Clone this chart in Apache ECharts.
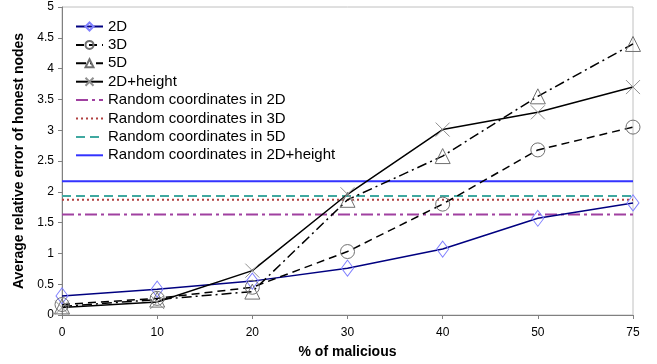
<!DOCTYPE html>
<html>
<head>
<meta charset="utf-8">
<script src="https://cdn.jsdelivr.net/npm/echarts@6/dist/echarts.min.js"></script>
<style>
html,body{margin:0;padding:0;background:#fff;}
#chart{width:657px;height:364px;}
</style>
</head>
<body>
<div id="chart"></div>
<script>
const categories = ['0', '10', '20', '30', '40', '50', '75'];
const yTicks = [0, 0.5, 1, 1.5, 2, 2.5, 3, 3.5, 4, 4.5, 5];

const s2D       = [0.31, 0.42, 0.55, 0.76, 1.07, 1.57, 1.82];
const s3D       = [0.17, 0.27, 0.45, 1.03, 1.80, 2.68, 3.05];
const s5D       = [0.14, 0.25, 0.38, 1.87, 2.58, 3.55, 4.40];
const s2DHeight = [0.12, 0.21, 0.72, 1.96, 3.01, 3.29, 3.70];

const rand2D       = [1.63, 1.63, 1.63, 1.63, 1.63, 1.63, 1.63];
const rand3D       = [1.87, 1.87, 1.87, 1.87, 1.87, 1.87, 1.87];
const rand5D       = [1.93, 1.93, 1.93, 1.93, 1.93, 1.93, 1.93];
const rand2DHeight = [2.17, 2.17, 2.17, 2.17, 2.17, 2.17, 2.17];

const names = ['2D', '3D', '5D', '2D+height',
  'Random coordinates in 2D', 'Random coordinates in 3D',
  'Random coordinates in 5D', 'Random coordinates in 2D+height'];

const FONT = '"Liberation Sans", Arial, sans-serif';
const chart = echarts.init(document.getElementById('chart'));

function marked(name, data, lineColor, lineType, symbol, size, markColor) {
  return {
    name, type: 'line', data, symbol, symbolSize: size,
    lineStyle: { color: lineColor, width: 1.5, type: lineType },
    itemStyle: { color: 'rgba(0,0,0,0)', borderColor: markColor, borderWidth: 1 },
    emphasis: { disabled: true }, animation: false
  };
}
function flat(name, data, color, type, width) {
  return {
    name, type: 'line', data, symbol: 'none', showSymbol: false,
    lineStyle: { color, width, type },
    itemStyle: { color },
    emphasis: { disabled: true }, animation: false
  };
}

chart.setOption({
  animation: false,
  grid: { left: 62, right: 24, top: 7, bottom: 48, show: true, borderColor: '#c0c0c0', borderWidth: 1, backgroundColor: '#fff' },
  legend: {
    orient: 'vertical', left: 75, top: 19, padding: 0,
    itemWidth: 27, itemHeight: 10, itemGap: 3.4,
    textStyle: { fontFamily: FONT, fontSize: 15, color: '#000', lineHeight: 14, padding: [0, 0, 0, 0] },
    data: names.map((n, i) => i < 4 ? { name: n } :
      { name: n, itemStyle: { color: 'rgba(0,0,0,0)', borderColor: 'rgba(0,0,0,0)', borderWidth: 0, opacity: 0 } })
  },
  xAxis: {
    type: 'category', data: categories, boundaryGap: false,
    name: '% of malicious', nameLocation: 'middle', nameGap: 30,
    nameTextStyle: { fontFamily: FONT, fontSize: 14, fontWeight: 'bold', color: '#000' },
    axisLine: { lineStyle: { color: '#808080' } },
    axisTick: { show: true, length: 4, lineStyle: { color: '#808080' } },
    axisLabel: { fontFamily: FONT, fontSize: 12, color: '#000', margin: 12 },
    splitLine: { show: false }
  },
  yAxis: {
    type: 'value', min: yTicks[0], max: yTicks[yTicks.length - 1], interval: 0.5,
    name: 'Average relative error of honest nodes', nameLocation: 'middle', nameGap: 33,
    nameTextStyle: { fontFamily: FONT, fontSize: 14, fontWeight: 'bold', color: '#000' },
    axisLine: { show: true, lineStyle: { color: '#808080' } },
    axisTick: { show: true, length: 4, lineStyle: { color: '#808080' } },
    axisLabel: { fontFamily: FONT, fontSize: 12, color: '#000', margin: 8 },
    splitLine: { show: false }
  },
  series: [
    flat(names[4], rand2D, '#a040a0', [12, 4, 3, 4], 2),
    flat(names[5], rand3D, '#b04040', [2, 3], 2),
    flat(names[6], rand5D, '#40a8a0', [9, 5], 2),
    flat(names[7], rand2DHeight, '#3333ff', 'solid', 2),
    marked(names[0], s2D, '#000080', 'solid', 'diamond', [12, 16], '#8080ff'),
    marked(names[1], s3D, '#000', [8, 5], 'circle', 14, '#707070'),
    marked(names[2], s5D, '#000', [10, 4, 2, 4], 'triangle', 15, '#707070'),
    marked(names[3], s2DHeight, '#000', 'solid', 'path://M0,0L10,10M10,0L0,10', 14, '#909090')
  ]
});
</script>
</body>
</html>
